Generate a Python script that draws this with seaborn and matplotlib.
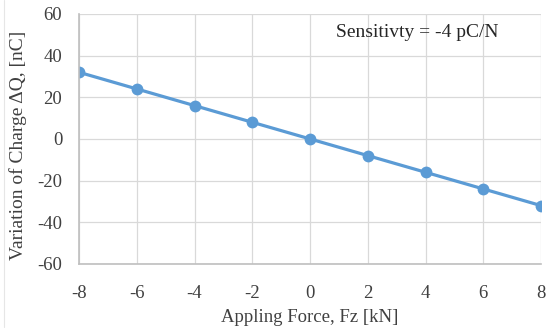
import matplotlib
matplotlib.use("Agg")
import matplotlib.pyplot as plt
from matplotlib.lines import Line2D
import seaborn as sns
import pandas as pd

force = [-8, -6, -4, -2, 0, 2, 4, 6, 8]
charge = [32, 24, 16, 8, 0, -8, -16, -24, -32]
x_ticks = [-8, -6, -4, -2, 0, 2, 4, 6, 8]
y_ticks = [-60, -40, -20, 0, 20, 40, 60]

sns.set_theme(style="white")
plt.rcParams['font.family'] = ['Liberation Serif', 'DejaVu Serif']
plt.rcParams['axes.unicode_minus'] = False

df = pd.DataFrame({"force": force, "charge": charge})
fig = plt.figure(figsize=(5.46, 3.32), dpi=100)
ax = fig.add_axes([0.1447, 0.205, 0.8463, 0.753])
sns.lineplot(data=df, x="force", y="charge", ax=ax, color="#5B9BD5",
             linewidth=2.3, marker="o", markersize=8.5, markeredgewidth=0)

ax.set_xlim(-8, 8)
ax.set_ylim(-60, 60)
ax.set_xticks(x_ticks)
ax.set_yticks(y_ticks)
ax.grid(True, color="#D9D9D9", linewidth=0.9)
ax.set_axisbelow(True)
for s in ["top", "right"]:
    ax.spines[s].set_visible(False)
for s in ["left", "bottom"]:
    ax.spines[s].set_color("#BFBFBF")
    ax.spines[s].set_linewidth(1.2)
ax.tick_params(axis="both", labelsize=13.5, colors="#404040", length=0)
ax.tick_params(axis="y", pad=12)
ax.tick_params(axis="x", pad=15)
ax.set_xlabel("Appling Force, Fz [kN]", fontsize=13.5, color="#404040", labelpad=5)
ax.set_ylabel("Variation of Charge ΔQ, [nC]", fontsize=14, color="#404040")
ax.yaxis.set_label_coords(-0.112, 0.476)
ax.text(0.9, 50.9, "Sensitivty = -4 pC/N", fontsize=14, color="#262626",
        ha="left", va="center")

# faint chart-area border at the left edge, as in the reference
fig.add_artist(Line2D([3.5 / 546, 3.5 / 546], [5 / 332, 1.0],
                      transform=fig.transFigure, color="#E6E6E6", linewidth=0.8))
fig.savefig("out.png", dpi=100)
